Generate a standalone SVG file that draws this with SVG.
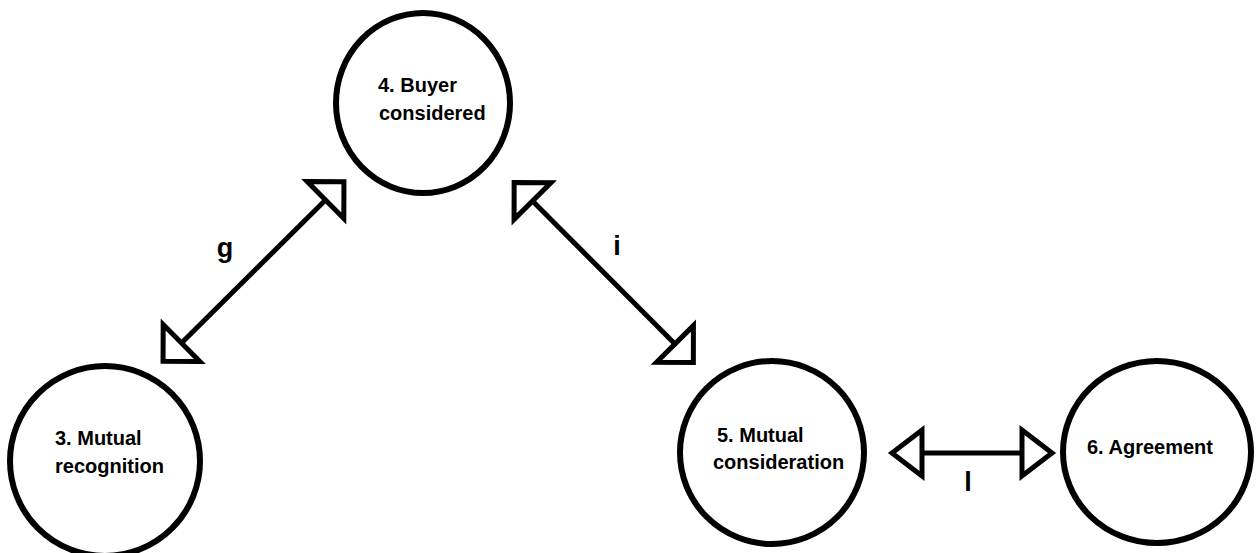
<svg xmlns="http://www.w3.org/2000/svg" width="1258" height="553" viewBox="0 0 1258 553">
  <style>
    .node { fill: #ffffff; stroke: #000000; stroke-width: 6; }
    .txt { font-family: "Liberation Sans", Arial, sans-serif; font-weight: bold; font-size: 20px; fill: #000000; }
    .lbl { font-family: "Liberation Sans", Arial, sans-serif; font-weight: bold; font-size: 27px; fill: #000000; text-anchor: middle; }
    .edge { stroke: #000000; stroke-width: 5; fill: none; }
  </style>
  <defs>
    <marker id="diag" markerUnits="userSpaceOnUse" viewBox="-4 -30 36 60" refX="0" refY="0" markerWidth="36" markerHeight="60" orient="auto-start-reverse" overflow="visible">
      <path d="M0,-26 L26,0 L0,26 Z" fill="#ffffff" stroke="#000000" stroke-width="5" stroke-linejoin="miter"/>
    </marker>
    <marker id="horiz" markerUnits="userSpaceOnUse" viewBox="-4 -28 40 56" refX="0" refY="0" markerWidth="40" markerHeight="56" orient="auto-start-reverse" overflow="visible">
      <path d="M0,-23 L30,0 L0,23 Z" fill="#ffffff" stroke="#000000" stroke-width="5" stroke-linejoin="miter"/>
    </marker>
  </defs>
  <rect width="1258" height="553" fill="#ffffff"/>

  <g id="connectors">
    <line class="edge" x1="181.5" y1="343" x2="325.5" y2="200" marker-start="url(#diag)" marker-end="url(#diag)"/>
    <line class="edge" x1="532.5" y1="201" x2="675" y2="344" marker-start="url(#diag)" marker-end="url(#diag)"/>
    <line class="edge" x1="922" y1="453" x2="1022" y2="453" marker-start="url(#horiz)" marker-end="url(#horiz)"/>
    <text class="lbl" x="225" y="257">g</text>
    <text class="lbl" x="617" y="255">i</text>
    <text class="lbl" x="968" y="491">l</text>
  </g>

  <g id="node4">
    <ellipse class="node" cx="423" cy="103" rx="87" ry="90"/>
    <text class="txt" x="378" y="92">4. Buyer</text>
    <text class="txt" x="379" y="120">considered</text>
  </g>

  <g id="node3">
    <ellipse class="node" cx="105" cy="461" rx="95" ry="95"/>
    <text class="txt" x="55" y="445">3. Mutual</text>
    <text class="txt" x="55" y="473">recognition</text>
  </g>

  <g id="node5">
    <ellipse class="node" cx="772" cy="452.5" rx="92" ry="91.5"/>
    <text class="txt" x="717" y="442">5. Mutual</text>
    <text class="txt" x="713" y="469">consideration</text>
  </g>

  <g id="node6">
    <ellipse class="node" cx="1157" cy="452" rx="94" ry="91"/>
    <text class="txt" x="1087" y="454">6. Agreement</text>
  </g>
</svg>
